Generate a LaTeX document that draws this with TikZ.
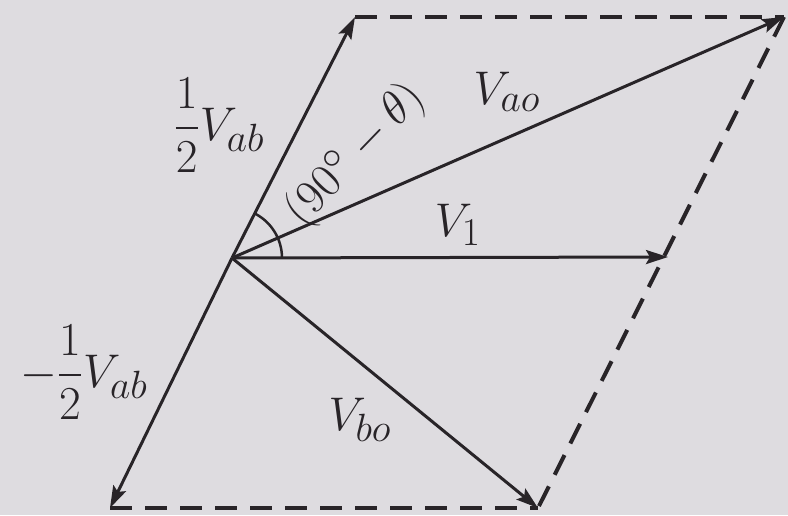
\documentclass[tikz,border=0pt]{standalone}
\usepackage{amsmath}
\usetikzlibrary{arrows.meta}
\definecolor{bg}{RGB}{222,220,224}
\definecolor{ink}{RGB}{40,36,40}
\begin{document}
\begin{tikzpicture}[x=1pt,y=1pt,
  vec/.style={draw=ink,line width=3pt,-{Stealth[length=22pt,width=14pt,inset=4pt]}},
  dashside/.style={draw=ink,line width=4pt,dash pattern=on 22pt off 13pt},
  lbl/.style={text=ink,inner sep=0pt,font=\Huge,scale=1.9}]
\fill[bg] (0,0) rectangle (788,515);
\useasboundingbox (0,0) rectangle (788,515);
\coordinate (O) at (232,257);
\coordinate (TL) at (355,498);
\coordinate (TR) at (784,498);
\coordinate (BR) at (538,7);
\coordinate (BL) at (110,7);
\coordinate (V1) at (668,258);
% dashed parallelogram sides
\draw[dashside] (TL) -- (TR);
\draw[dashside] (TR) -- (BR);
\draw[dashside] (BL) -- (BR);
% vectors
\draw[vec] (O) -- (TL);
\draw[vec] (O) -- (BL);
\draw[vec] (O) -- (TR);
\draw[vec] (O) -- (V1);
\draw[vec] (O) -- (BR);
% angle arc
\draw[ink,line width=2.5pt] ([shift={(50,0)}]O) arc[start angle=0,end angle=62,radius=50];
% labels
\node[lbl] (lhalf) at (219,390) {$\dfrac{1}{2}V_{ab}$};
\node[lbl] (lmhalf) at (84,143) {$-\dfrac{1}{2}V_{ab}$};
\node[lbl,rotate=46] (lang) at (356,360) {$(90^\circ-\theta)$};
\node[lbl] (lao) at (507,423) {$V_{ao}$};
\node[lbl] (l1) at (458,290) {$V_1$};
\node[lbl] (lbo) at (360,95) {$V_{bo}$};
\end{tikzpicture}
\end{document}
